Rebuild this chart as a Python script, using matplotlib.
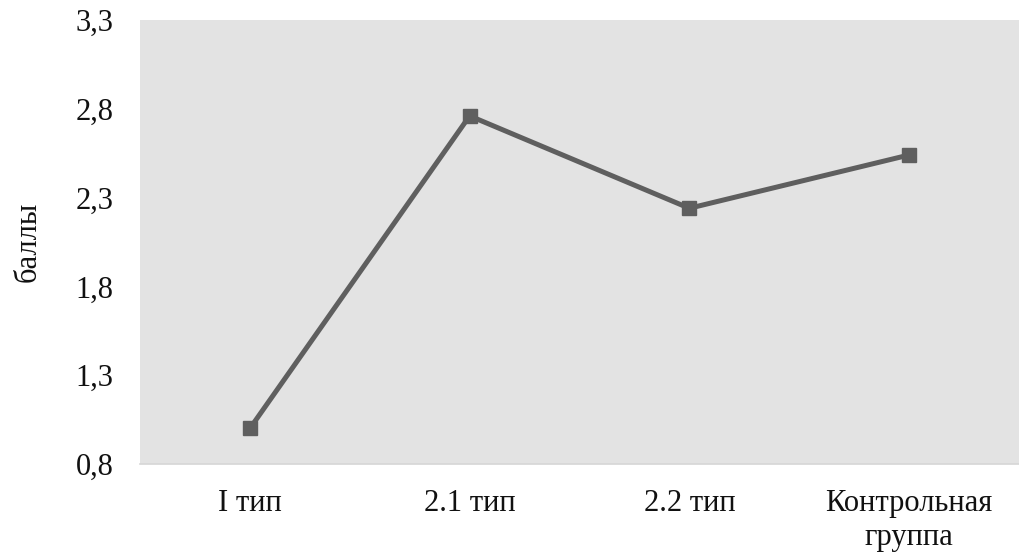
import matplotlib
matplotlib.use("Agg")
import matplotlib.pyplot as plt

categories = ["I тип", "2.1 тип", "2.2 тип", "Контрольная\nгруппа"]
scores = [1.0, 2.76, 2.24, 2.54]
yticks = [0.8, 1.3, 1.8, 2.3, 2.8, 3.3]
ytick_labels = ["0,8", "1,3", "1,8", "2,3", "2,8", "3,3"]

plt.rcParams["font.family"] = ["Liberation Serif", "DejaVu Serif"]

fig = plt.figure(figsize=(10.19, 5.58), dpi=100)
ax = fig.add_axes([140 / 1019, 94 / 558, 879 / 1019, 444 / 558])
ax.set_facecolor("#e3e3e3")

x = list(range(len(categories)))
ax.plot(x, scores, color="#5f5f5f", linewidth=3.6, marker="s",
        markersize=10.5, markerfacecolor="#5f5f5f", markeredgecolor="#5f5f5f",
        solid_joinstyle="miter")

ax.set_xlim(-0.5, len(categories) - 0.5)
ax.set_ylim(0.8, 3.3)
ax.set_yticks(yticks)
ax.set_yticklabels(ytick_labels)
ax.set_xticks(x)
ax.set_xticklabels(categories, linespacing=1.25)

ax.tick_params(axis="y", length=0, pad=19, labelsize=22, labelcolor="#111111")
ax.tick_params(axis="x", length=0, pad=18, labelsize=22, labelcolor="#111111")

for side in ("top", "right", "left"):
    ax.spines[side].set_visible(False)
ax.spines["bottom"].set_color("#d6d6d6")
ax.spines["bottom"].set_linewidth(1.2)

ax.set_ylabel("баллы", fontsize=22, color="#111111", labelpad=24)

fig.savefig("out.png", dpi=100, facecolor="white")
